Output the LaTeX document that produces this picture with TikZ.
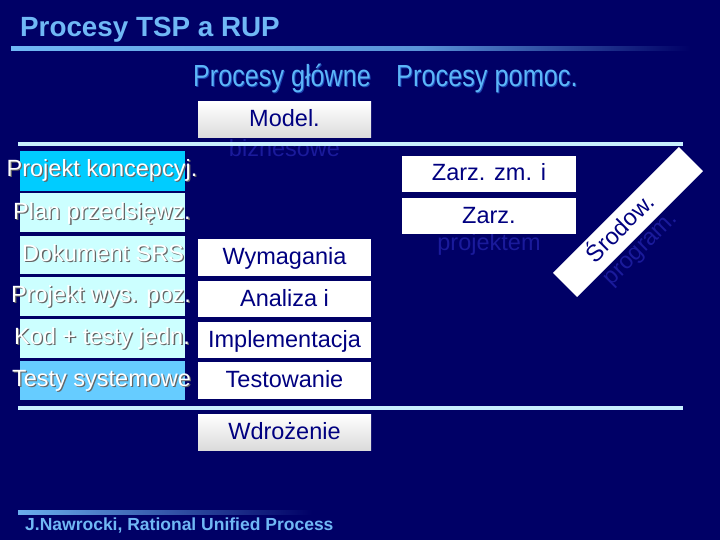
\documentclass[tikz,border=0pt]{standalone}
\usepackage{fontspec}
\setmainfont{Liberation Sans}
\usepackage{graphicx}
\definecolor{bg}{RGB}{0,0,102}
\definecolor{ttl}{RGB}{112,184,245}
\definecolor{hdr}{RGB}{92,182,248}
\definecolor{glow}{RGB}{40,100,210}
\definecolor{boxtxt}{RGB}{0,0,128}
\definecolor{hid}{RGB}{26,26,155}
\definecolor{sep}{RGB}{200,240,255}
\definecolor{cA}{RGB}{0,204,255}
\definecolor{cB}{RGB}{204,255,255}
\definecolor{cC}{RGB}{102,204,255}
\newcommand{\bxfont}{\fontsize{23.5}{27}\selectfont}
\tikzset{
  wbox/.style={fill=white, minimum width=173pt, minimum height=36pt, inner sep=0pt,
    text=boxtxt, font=\bxfont, text height=18pt, text depth=4pt},
  gbox/.style={wbox, fill=none, top color=white, bottom color=black!14},
  lbox/.style={minimum width=165pt, inner sep=0pt},
  ltxt/.style={anchor=base, font=\bxfont, text=white, inner sep=0pt},
  lsh/.style={anchor=base, font=\bxfont, text=black!60, inner sep=0pt},
  hidtxt/.style={anchor=base, font=\bxfont, text=hid, inner sep=0pt},
  hdrtxt/.style={anchor=base west, inner sep=0pt, text=hdr},
}
\begin{document}
\begin{tikzpicture}[x=1pt,y=-1pt]
\fill[bg] (0,0) rectangle (720,540);
\useasboundingbox (0,0) rectangle (720,540);

% title
\node[anchor=base west, inner sep=0pt, text=ttl, font=\fontsize{27.8}{30}\selectfont\bfseries] (title) at (20,37) {Procesy TSP a RUP};
\shade[left color=ttl, right color=ttl!80!bg] (11,47) rectangle (420,51);
\shade[left color=ttl!80!bg, right color=bg] (420,47) rectangle (690,51);

% column headers
\node[hdrtxt, text=glow, opacity=0.7] (hg1s) at (194,88) {\scalebox{0.825}[1]{\fontsize{30.5}{32}\selectfont Procesy główne}};
\node[hdrtxt] (hg1) at (193,87) {\scalebox{0.825}[1]{\fontsize{30.5}{32}\selectfont Procesy główne}};
\node[hdrtxt, text=glow, opacity=0.7] (hg2s) at (397,88) {\scalebox{0.83}[1]{\fontsize{30.5}{32}\selectfont Procesy pomoc.}};
\node[hdrtxt] (hg2) at (396,87) {\scalebox{0.83}[1]{\fontsize{30.5}{32}\selectfont Procesy pomoc.}};

% hidden second lines
\node[hidtxt] (biz) at (284.5,157) {biznesowe};
\node[hidtxt] (prj) at (489,251) {projektem};
\node[hidtxt, rotate=45] (prg) at (645,253) {program.};

% RUP boxes
\node[gbox] (model) at (284.5,120) {Model.};
\node[gbox] (wdr) at (284.5,432) {Wdrożenie};
\node[wbox, minimum height=37pt] (wym) at (284.5,257.5) {Wymagania};
\node[wbox] (anal) at (284.5,299) {Analiza i};
\node[wbox] (impl) at (284.5,340) {Implementacja};
\node[wbox, minimum height=37pt] (test) at (284.5,380.5) {Testowanie};
\node[wbox, minimum width=174pt] (zz1) at (489,174) {Zarz. zm. i};
\node[wbox, minimum width=174pt] (zz2) at (489,216) {Zarz.};
\node[wbox, rotate=45, minimum width=178pt, minimum height=34pt] (sr) at (628,222) {Środow.\hspace*{20pt}};

% separators
\fill[sep] (18,142) rectangle (683,146);
\fill[sep] (18,406) rectangle (683,410);

% TSP boxes
\node[lbox, fill=cA, minimum height=40pt] (l1) at (102.5,171) {};
\node[lbox, fill=cB, minimum height=39pt] (l2) at (102.5,212.5) {};
\node[lbox, fill=cB, minimum height=38pt] (l3) at (102.5,255) {};
\node[lbox, fill=cB, minimum height=39pt] (l4) at (102.5,296.5) {};
\node[lbox, fill=cB, minimum height=39pt] (l5) at (102.5,338.5) {};
\node[lbox, fill=cC, minimum height=39pt] (l6) at (102.5,380.5) {};

\node[lsh] (s1) at (103.3,177.8) {Projekt koncepcyj.};
\node[ltxt] (t1) at (102,176.5) {Projekt koncepcyj.};
\node[lsh] (s2) at (103.3,220.3) {Plan przedsięwz.};
\node[ltxt] (t2) at (102,219) {Plan przedsięwz.};
\node[lsh] (s3) at (104.3,262.3) {Dokument SRS};
\node[ltxt] (t3) at (103,261) {Dokument SRS};
\node[lsh] (s4) at (102.3,303.8) {Projekt wys. poz.};
\node[ltxt] (t4) at (101,302.5) {Projekt wys. poz.};
\node[lsh] (s5) at (103.3,345.8) {Kod + testy jedn.};
\node[ltxt] (t5) at (102,344.5) {Kod + testy jedn.};
\node[lsh] (s6) at (102.8,387.8) {Testy systemowe};
\node[ltxt] (t6) at (101.5,386.5) {Testy systemowe};

% footer
\shade[left color=ttl!95!bg, right color=bg] (18,510) rectangle (312,514);
\node[anchor=base west, inner sep=0pt, text=ttl, font=\fontsize{17.5}{20}\selectfont\bfseries] (foot) at (25,530) {J.Nawrocki, Rational Unified Process};
\end{tikzpicture}
\end{document}
